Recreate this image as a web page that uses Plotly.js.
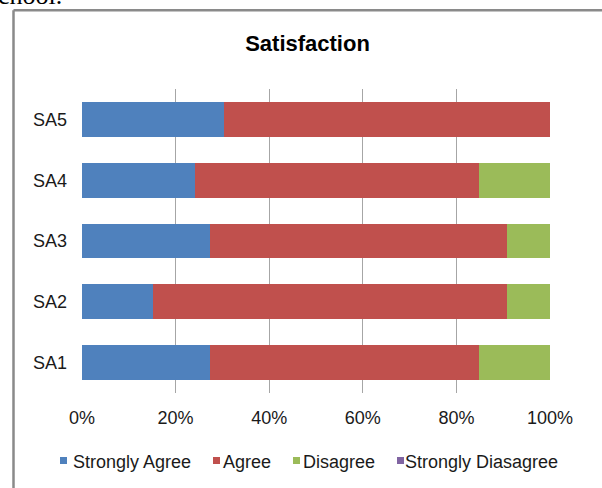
<!DOCTYPE html>
<html>
<head>
<meta charset="utf-8">
<script src="https://cdn.plot.ly/plotly-3.0.1.min.js"></script>
<style>html,body{margin:0;padding:0;background:#fff;}#chart{width:602px;height:488px;}</style>
</head>
<body>
<div id="chart"></div>
<script>
// Data (percent of respondents)
var categories = ['SA1', 'SA2', 'SA3', 'SA4', 'SA5'];
var seriesNames = ['Strongly Agree', 'Agree', 'Disagree', 'Strongly Diasagree'];
var stronglyAgree = [27.3, 15.2, 27.3, 24.2, 30.3];
var agree = [57.6, 75.7, 63.6, 60.6, 69.7];
var disagree = [15.1, 9.1, 9.1, 15.2, 0];
var stronglyDisagree = [0, 0, 0, 0, 0];
var tickValues = [0, 20, 40, 60, 80, 100];
var tickLabels = ['0%', '20%', '40%', '60%', '80%', '100%'];
var colors = ['#4F81BD', '#C0504D', '#9BBB59', '#8064A2'];

var seriesValues = [stronglyAgree, agree, disagree, stronglyDisagree];
var traces = seriesValues.map(function (vals, i) {
  return {
    type: 'bar', orientation: 'h',
    name: seriesNames[i], x: vals, y: categories,
    marker: {color: colors[i], line: {width: 0}},
    showlegend: false, hoverinfo: 'name+x'
  };
});

var W = 602, H = 488, L = 82, R = 52, T = 89, B = 95;
var pw = W - L - R, ph = H - T - B;
function px(x) { return (x - L) / pw; }
function py(y) { return (H - B - y) / ph; }

var font = 'Liberation Sans, Arial, sans-serif';

// legend layout (pixel positions of the legend key squares and labels)
var legendSquareX = [60, 213, 293, 397];
var legendTextX = [73, 223, 303, 405];
var legendY = 462, sqTop = 457, sqSize = 7;

var shapes = [
  {type: 'line', xref: 'paper', yref: 'paper', x0: px(13.5), x1: px(610), y0: py(10.3), y1: py(10.3),
   line: {color: '#8a8a8a', width: 2.5}},
  {type: 'line', xref: 'paper', yref: 'paper', x0: px(13.5), x1: px(13.5), y0: py(10.3), y1: py(500),
   line: {color: '#8a8a8a', width: 2.5}}
];
var annotations = [
  {xref: 'paper', yref: 'paper', x: px(-4), y: py(12), xanchor: 'left', yanchor: 'bottom',
   text: 'chool.', showarrow: false, font: {family: 'Liberation Serif, Times New Roman, serif', size: 26, color: '#000'}}
];
seriesNames.forEach(function (n, i) {
  shapes.push({type: 'rect', xref: 'paper', yref: 'paper',
    x0: px(legendSquareX[i]), x1: px(legendSquareX[i] + sqSize),
    y0: py(sqTop + sqSize), y1: py(sqTop),
    fillcolor: colors[i], line: {width: 0}});
  annotations.push({xref: 'paper', yref: 'paper', x: px(legendTextX[i] - 2), y: py(legendY),
    xanchor: 'left', yanchor: 'middle', text: n, showarrow: false,
    font: {family: font, size: 18, color: '#1a1a1a'}});
});

var layout = {
  width: W, height: H,
  margin: {l: L, r: R, t: T, b: B, pad: 0},
  paper_bgcolor: '#ffffff', plot_bgcolor: '#ffffff',
  barmode: 'stack', bargap: 0.43,
  font: {family: font, size: 18, color: '#1a1a1a'},
  title: {text: '<b>Satisfaction</b>', font: {family: font, size: 22, color: '#000'},
          x: 307.5 / W, xref: 'container', xanchor: 'center',
          y: 1 - 43 / H, yref: 'container', yanchor: 'middle'},
  xaxis: {range: [0, 100], tickvals: tickValues, ticktext: tickLabels,
          showgrid: true, gridcolor: '#A6A6A6', gridwidth: 1,
          zeroline: false, showline: false, ticks: '', ticklabelstandoff: 12,
          tickfont: {family: font, size: 18, color: '#1a1a1a'}, fixedrange: true},
  yaxis: {type: 'category', categoryorder: 'array', categoryarray: categories,
          showgrid: false, zeroline: false, showline: false, ticks: '',
          ticklabelstandoff: 14,
          tickfont: {family: font, size: 18, color: '#1a1a1a'}, fixedrange: true},
  showlegend: false,
  shapes: shapes,
  annotations: annotations
};

Plotly.newPlot('chart', traces, layout, {displayModeBar: false, staticPlot: true});
</script>
</body>
</html>
